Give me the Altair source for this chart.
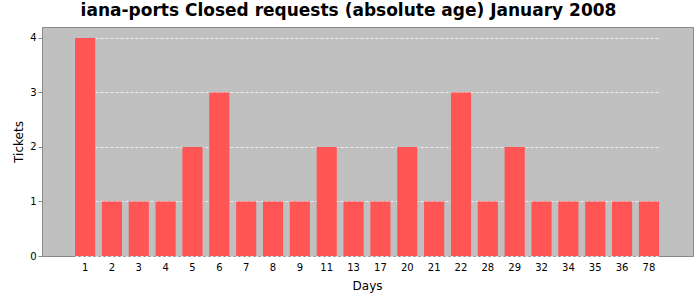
import altair as alt
import pandas as pd

days = ["1", "2", "3", "4", "5", "6", "7", "8", "9", "11", "13", "17", "20", "21", "22", "28", "29", "32", "34", "35", "36", "78"]
tickets = [4, 1, 1, 1, 2, 3, 1, 1, 1, 2, 1, 1, 2, 1, 3, 1, 2, 1, 1, 1, 1, 1]

df = pd.DataFrame({"Days": days, "Tickets": tickets})

FONT = "DejaVu Sans"

chart = alt.Chart(df).mark_bar(color="#FF5555").encode(
    x=alt.X("Days:N", sort=days,
            scale=alt.Scale(paddingInner=0.25, paddingOuter=0, range=[33, 617]),
            axis=alt.Axis(title="Days", labelAngle=0, ticks=False, domain=False,
                          labelFontSize=10, titleFontSize=12, titleFontWeight="normal",
                          labelFont=FONT, titleFont=FONT, labelColor="#000", titleColor="#000",
                          labelPadding=6, titlePadding=8, grid=False)),
    y=alt.Y("Tickets:Q", scale=alt.Scale(domain=[0, 4.2], nice=False),
            axis=alt.Axis(title="Tickets", values=[0, 1, 2, 3, 4], format="d",
                          tickSize=4, tickColor="#888", domain=False,
                          labelFontSize=10, titleFontSize=12, titleFontWeight="normal",
                          labelFont=FONT, titleFont=FONT, labelColor="#000", titleColor="#000",
                          gridColor="#F4F4F4", gridDash=[3, 2], gridOpacity=0.9, titlePadding=4)),
).properties(
    width=651,
    height=229,
    title=alt.TitleParams("iana-ports Closed requests (absolute age) January 2008",
                          fontSize=17, font=FONT, fontWeight="bold", color="#000",
                          anchor="middle", offset=7, dx=-19),
    padding={"left": 42, "top": 27, "right": 7, "bottom": 44},
    autosize=alt.AutoSizeParams(type="none"),
    background="#FFFFFF",
).configure_view(fill="#C0C0C0", stroke="#888888", strokeWidth=1)

chart.save("out.html", embed_options={"renderer": "svg", "actions": False})
